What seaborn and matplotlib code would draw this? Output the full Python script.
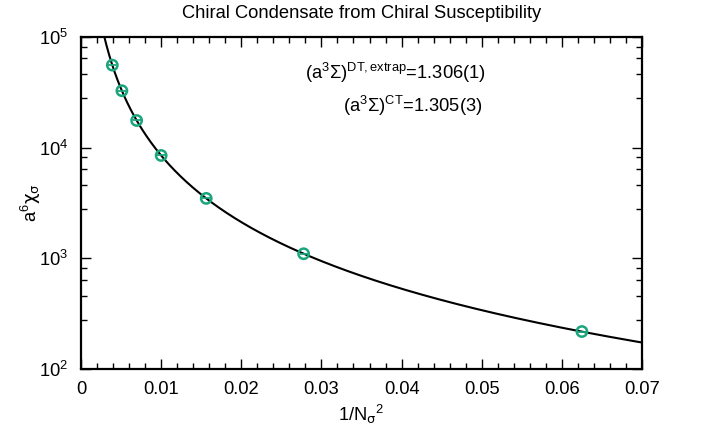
import numpy as np
import pandas as pd
import matplotlib
matplotlib.use("Agg")
import matplotlib.pyplot as plt
import matplotlib.ticker as mticker
import seaborn as sns

# ---- data ----
N_sigma = [16, 14, 12, 10, 8, 6, 4]
inv_N2 = [1 / 256, 1 / 196, 1 / 144, 1 / 100, 1 / 64, 1 / 36, 1 / 16]
chi = [55700, 32700, 17600, 8500, 3480, 1100, 218]
fit_coeff = 0.85          # fitted curve: a^6 chi = C / (1/N^2)^2
fit_xmin, fit_xmax = 0.0025, 0.07

title = "Chiral Condensate from Chiral Susceptibility"
x_ticks = [0, 0.01, 0.02, 0.03, 0.04, 0.05, 0.06, 0.07]
x_ticklabels = ["0", "0.01", "0.02", "0.03", "0.04", "0.05", "0.06", "0.07"]
y_ticks = [1e2, 1e3, 1e4, 1e5]
y_ticklabels = [r"$\mathrm{10^{2}}$", r"$\mathrm{10^{3}}$", r"$\mathrm{10^{4}}$", r"$\mathrm{10^{5}}$"]

sns.set_theme(style="ticks")
plt.rcParams["font.family"] = ["Liberation Sans", "DejaVu Sans"]
plt.rcParams["mathtext.fontset"] = "custom"
plt.rcParams["mathtext.rm"] = "Liberation Sans"
plt.rcParams["mathtext.it"] = "Liberation Sans"
plt.rcParams["mathtext.bf"] = "Liberation Sans:bold"
plt.rcParams["mathtext.sf"] = "DejaVu Sans"
plt.rcParams["text.color"] = "black"
plt.rcParams["axes.labelcolor"] = "black"

FS = 13.2
GREEN = "#1aa57c"

fig = plt.figure(figsize=(7.04, 4.33), dpi=100)
ax = fig.add_axes([81 / 704, 1 - 369 / 433, (642 - 81) / 704, (369 - 37) / 433])

fx = np.linspace(fit_xmin, fit_xmax, 600)
fit_df = pd.DataFrame({"x": fx, "y": fit_coeff / fx ** 2})
sns.lineplot(data=fit_df, x="x", y="y", ax=ax, color="black", linewidth=1.5, zorder=2)

pts = pd.DataFrame({"x": inv_N2, "y": chi})
sns.scatterplot(data=pts, x="x", y="y", ax=ax, marker="o", s=55,
                facecolor="none", edgecolor=GREEN, linewidth=1.8, zorder=3)
sns.scatterplot(data=pts, x="x", y="y", ax=ax, marker="_", s=40,
                color=GREEN, linewidth=1.3, zorder=3)

ax.set_yscale("log")
ax.set_xlim(0, 0.07)
ax.set_ylim(1e2, 1e5)

ax.set_xticks(x_ticks)
ax.set_xticklabels(x_ticklabels)
ax.xaxis.set_minor_locator(mticker.MultipleLocator(0.002))
ax.set_yticks(y_ticks)
ax.set_yticklabels(y_ticklabels)
minor_y = [10 ** k * (1 + 9 * i / 5) for k in (2, 3, 4) for i in (1, 2, 3, 4)]
ax.yaxis.set_minor_locator(mticker.FixedLocator(minor_y))
ax.yaxis.set_minor_formatter(mticker.NullFormatter())

ax.tick_params(which="both", direction="in", top=True, right=True, color="black",
               labelsize=FS, labelcolor="black")
ax.tick_params(which="major", length=7, width=1.0, pad=9)
ax.tick_params(which="minor", length=4, width=1.0)
for s in ax.spines.values():
    s.set_linewidth(1.6)
    s.set_color("black")

ax.set_xlabel(r"$\mathrm{1/N_{\mathsf{σ}}{}^{2}}$", fontsize=FS, labelpad=3)
ax.set_ylabel(r"$\mathrm{a^{6}}\mathsf{χ}_{\mathsf{σ}}$", fontsize=FS)
ax.yaxis.set_label_coords(-0.068, 0.5)
ax.set_title(title, fontsize=FS, pad=14, color="black")

ax.text(486, 433 - 73, r"$\mathrm{(a^{3}Σ)^{DT,extrap}}$=1.306(1)", transform=None,
        fontsize=FS, ha="right", va="center")
ax.text(483, 433 - 106, r"$\mathrm{(a^{3}Σ)^{CT}}$=1.305(3)", transform=None,
        fontsize=FS, ha="right", va="center")

fig.savefig("out.png", dpi=100)
